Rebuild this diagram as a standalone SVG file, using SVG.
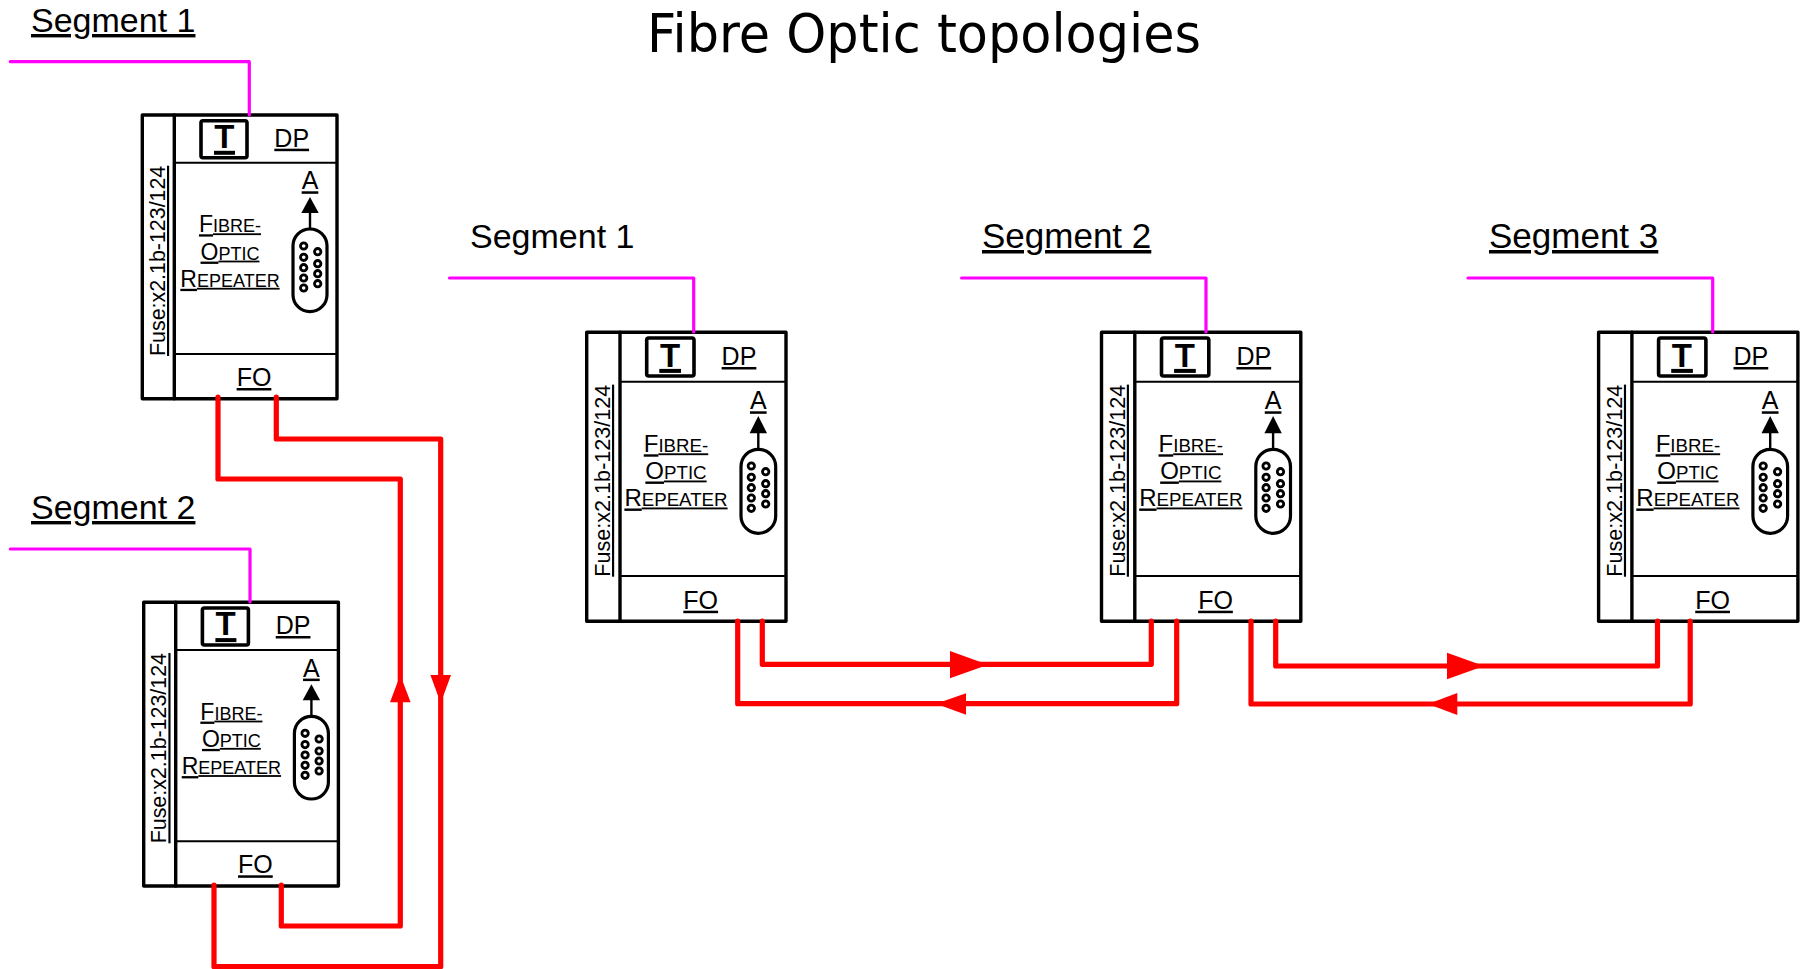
<svg xmlns="http://www.w3.org/2000/svg" width="1806" height="969" viewBox="0 0 1806 969">
<style>
text{font-family:"Liberation Sans",Arial,sans-serif;fill:#000}
.u{text-decoration:underline}
.c{text-anchor:middle}
.seg{font-size:34px}
.segM{font-size:35px}
.title{font-family:"DejaVu Sans",sans-serif;font-size:54px}
.lbl{font-size:25px}
.sm{font-size:18px}
.smL{font-size:18.7px}
.f1{font-size:23px}
.f2{font-size:24px}
.fuse{font-size:21.4px}
.fuseL{font-size:21.6px}
.t{font-size:33px;font-weight:bold}
.box{fill:#fff;stroke:#000;stroke-width:3.4;stroke-linejoin:round}
.th{fill:none;stroke:#000;stroke-width:3.4;stroke-linecap:round}
.tn{fill:none;stroke:#000;stroke-width:2}
.tb{fill:#fff;stroke:#000;stroke-width:3.6;stroke-linejoin:round}
.pin{fill:#fff;stroke:#000;stroke-width:2.8}
.shell{fill:#fff;stroke:#000;stroke-width:3.2}
.mg{fill:none;stroke:#f0f;stroke-width:3.2;stroke-linejoin:round;stroke-linecap:round}
.rd{fill:none;stroke:#f00;stroke-width:5.2;stroke-linejoin:round;stroke-linecap:round}
.ah{fill:#f00}
</style>
<defs>
<g id="connS">
<path d="M0 0V-18" stroke="#000" stroke-width="2.4" fill="none"/>
<polygon points="0,-32 8.7,-16 -8.7,-16" fill="#000"/>
<rect class="shell" x="-17" y="0" width="34" height="82.7" rx="17" ry="17"/>
<circle class="pin" cx="-6.3" cy="17" r="3.2"/><circle class="pin" cx="-6.3" cy="28.3" r="3.2"/><circle class="pin" cx="-6.3" cy="38.7" r="3.2"/><circle class="pin" cx="-6.3" cy="49" r="3.2"/><circle class="pin" cx="-6.3" cy="59" r="3.2"/>
<circle class="pin" cx="7.7" cy="22.7" r="3.2"/><circle class="pin" cx="7.7" cy="34.7" r="3.2"/><circle class="pin" cx="7.7" cy="44.7" r="3.2"/><circle class="pin" cx="7.7" cy="54.7" r="3.2"/>
</g>
<g id="connL">
<path d="M0 0V-18" stroke="#000" stroke-width="2.4" fill="none"/>
<polygon points="0,-33.3 8.7,-16 -8.7,-16" fill="#000"/>
<rect class="shell" x="-17.3" y="0" width="34.7" height="84" rx="17.3" ry="17.3"/>
<circle class="pin" cx="-7" cy="16.7" r="3.2"/><circle class="pin" cx="-7" cy="28" r="3.2"/><circle class="pin" cx="-7" cy="38.4" r="3.2"/><circle class="pin" cx="-7" cy="48.7" r="3.2"/><circle class="pin" cx="-7" cy="59" r="3.2"/>
<circle class="pin" cx="7.4" cy="22.4" r="3.2"/><circle class="pin" cx="7.4" cy="34.4" r="3.2"/><circle class="pin" cx="7.4" cy="44.4" r="3.2"/><circle class="pin" cx="7.4" cy="54.7" r="3.2"/>
</g>
</defs>

<g id="labels">
<text class="title" x="647" y="52" textLength="554" lengthAdjust="spacingAndGlyphs">Fibre Optic topologies</text>
<text class="seg u" x="31" y="32">Segment 1</text>
<text class="seg u" x="31" y="519">Segment 2</text>
<text class="seg" x="470" y="248">Segment 1</text>
<text class="segM u" x="982" y="248">Segment 2</text>
<text class="segM u" x="1489" y="248">Segment 3</text>
</g>

<g id="node-a" transform="translate(142.3,115)">
<rect class="box" width="194.7" height="283.7"/>
<path class="th" d="M32 0V283.7"/>
<path class="tn" d="M32 47.7H194.7M32 239H194.7"/>
<rect class="tb" x="58.7" y="5.7" width="46" height="37" rx="2"/>
<text class="t c" x="82" y="33">T</text>
<path d="M71.7 37.8H92.7" stroke="#000" stroke-width="4" fill="none"/>
<text class="lbl u c" x="149.4" y="31.7">DP</text>
<text class="lbl u c" x="167.7" y="74.3">A</text>
<use href="#connS" x="167.7" y="114"/>
<text class="f1 u c" x="87.7" y="117.3">F<tspan class="sm">IBRE-</tspan></text>
<text class="f1 u c" x="87.7" y="144.6">O<tspan class="sm">PTIC</tspan></text>
<text class="f1 u c" x="87.7" y="171.8">R<tspan class="sm">EPEATER</tspan></text>
<text class="lbl u c" x="111.7" y="271">FO</text>
<text class="fuse u" transform="translate(22.7,241) rotate(-90)">Fuse:x2.1b-123/124</text>
</g>

<g id="node-b" transform="translate(143.7,602.3)">
<rect class="box" width="194.7" height="283.7"/>
<path class="th" d="M32 0V283.7"/>
<path class="tn" d="M32 47.7H194.7M32 239H194.7"/>
<rect class="tb" x="58.7" y="5.7" width="46" height="37" rx="2"/>
<text class="t c" x="82" y="33">T</text>
<path d="M71.7 37.8H92.7" stroke="#000" stroke-width="4" fill="none"/>
<text class="lbl u c" x="149.4" y="31.7">DP</text>
<text class="lbl u c" x="167.7" y="74.3">A</text>
<use href="#connS" x="167.7" y="114"/>
<text class="f1 u c" x="87.7" y="117.3">F<tspan class="sm">IBRE-</tspan></text>
<text class="f1 u c" x="87.7" y="144.6">O<tspan class="sm">PTIC</tspan></text>
<text class="f1 u c" x="87.7" y="171.8">R<tspan class="sm">EPEATER</tspan></text>
<text class="lbl u c" x="111.7" y="271">FO</text>
<text class="fuse u" transform="translate(22.7,241) rotate(-90)">Fuse:x2.1b-123/124</text>
</g>

<g id="node-c" transform="translate(586.7,332.3)">
<rect class="box" width="199.3" height="289"/>
<path class="th" d="M33.3 0V289"/>
<path class="tn" d="M33.3 49.4H199.3M33.3 243.7H199.3"/>
<rect class="tb" x="60" y="5.7" width="47.3" height="38" rx="2"/>
<text class="t c" x="83.3" y="35">T</text>
<path d="M72.6 38.6H94.3" stroke="#000" stroke-width="4" fill="none"/>
<text class="lbl u c" x="152.3" y="32.7">DP</text>
<text class="lbl u c" x="171.6" y="77">A</text>
<use href="#connL" x="171.6" y="117"/>
<text class="f2 u c" x="89.3" y="120">F<tspan class="smL">IBRE-</tspan></text>
<text class="f2 u c" x="89.3" y="147.2">O<tspan class="smL">PTIC</tspan></text>
<text class="f2 u c" x="89.3" y="174.2">R<tspan class="smL">EPEATER</tspan></text>
<text class="lbl u c" x="114" y="276.4">FO</text>
<text class="fuseL u" transform="translate(23.3,244.4) rotate(-90)">Fuse:x2.1b-123/124</text>
</g>

<g id="node-d" transform="translate(1101.5,332.3)">
<rect class="box" width="199.3" height="289"/>
<path class="th" d="M33.3 0V289"/>
<path class="tn" d="M33.3 49.4H199.3M33.3 243.7H199.3"/>
<rect class="tb" x="60" y="5.7" width="47.3" height="38" rx="2"/>
<text class="t c" x="83.3" y="35">T</text>
<path d="M72.6 38.6H94.3" stroke="#000" stroke-width="4" fill="none"/>
<text class="lbl u c" x="152.3" y="32.7">DP</text>
<text class="lbl u c" x="171.6" y="77">A</text>
<use href="#connL" x="171.6" y="117"/>
<text class="f2 u c" x="89.3" y="120">F<tspan class="smL">IBRE-</tspan></text>
<text class="f2 u c" x="89.3" y="147.2">O<tspan class="smL">PTIC</tspan></text>
<text class="f2 u c" x="89.3" y="174.2">R<tspan class="smL">EPEATER</tspan></text>
<text class="lbl u c" x="114" y="276.4">FO</text>
<text class="fuseL u" transform="translate(23.3,244.4) rotate(-90)">Fuse:x2.1b-123/124</text>
</g>

<g id="node-e" transform="translate(1598.6,332.3)">
<rect class="box" width="199.3" height="289"/>
<path class="th" d="M33.3 0V289"/>
<path class="tn" d="M33.3 49.4H199.3M33.3 243.7H199.3"/>
<rect class="tb" x="60" y="5.7" width="47.3" height="38" rx="2"/>
<text class="t c" x="83.3" y="35">T</text>
<path d="M72.6 38.6H94.3" stroke="#000" stroke-width="4" fill="none"/>
<text class="lbl u c" x="152.3" y="32.7">DP</text>
<text class="lbl u c" x="171.6" y="77">A</text>
<use href="#connL" x="171.6" y="117"/>
<text class="f2 u c" x="89.3" y="120">F<tspan class="smL">IBRE-</tspan></text>
<text class="f2 u c" x="89.3" y="147.2">O<tspan class="smL">PTIC</tspan></text>
<text class="f2 u c" x="89.3" y="174.2">R<tspan class="smL">EPEATER</tspan></text>
<text class="lbl u c" x="114" y="276.4">FO</text>
<text class="fuseL u" transform="translate(23.3,244.4) rotate(-90)">Fuse:x2.1b-123/124</text>
</g>

<g id="connectors">
<path class="mg" d="M10.3 61.7H249.3V115"/>
<path class="mg" d="M10.3 549H250V602"/>
<path class="mg" d="M449.5 278H693.7V332"/>
<path class="mg" d="M961.6 278H1206V332"/>
<path class="mg" d="M1468 278H1712.7V332"/>
<path class="rd" d="M218 397V479H400.3V926H281.3V885"/>
<path class="rd" d="M276.3 397V439H440.7V966.7H214V885"/>
<polygon class="ah" points="400.3,675 410.6,702.3 390,702.3"/>
<polygon class="ah" points="440.7,703 430.4,675 451,675"/>
<path class="rd" d="M762.3 621V664.3H1151.3V621"/>
<path class="rd" d="M737.7 621V703.7H1176.7V621"/>
<polygon class="ah" points="988,664.7 950,651 950,678.3"/>
<polygon class="ah" points="936,703.7 966,693.3 966,714.7"/>
<path class="rd" d="M1275.7 621V666H1657.5V621"/>
<path class="rd" d="M1251 621V704H1690.2V621"/>
<polygon class="ah" points="1484,666 1447,652.7 1447,679.3"/>
<polygon class="ah" points="1428,704 1457.3,693 1457.3,715"/>
</g>
</svg>
